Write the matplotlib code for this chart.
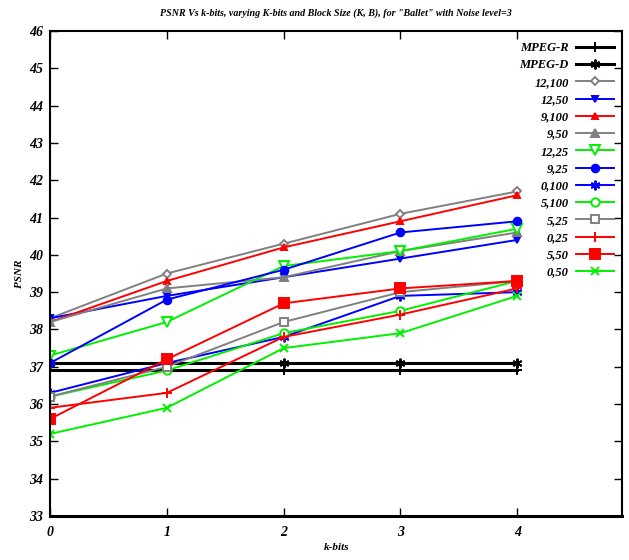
import numpy as np
import matplotlib
matplotlib.use("Agg")
import matplotlib.pyplot as plt

plt.rcParams['font.family'] = ['Liberation Serif', 'DejaVu Serif']
plt.rcParams['font.weight'] = 'bold'
plt.rcParams['font.style'] = 'italic'

k_bits = [0, 1, 2, 3, 4]

mpeg_r = [36.9, 36.9, 36.9, 36.9, 36.9]
mpeg_d = [37.1, 37.1, 37.1, 37.1, 37.1]
kb_12_100 = [38.3, 39.5, 40.3, 41.1, 41.7]
kb_12_50 = [38.3, 38.9, 39.4, 39.9, 40.4]
kb_9_100 = [38.2, 39.3, 40.2, 40.9, 41.6]
kb_9_50 = [38.2, 39.1, 39.4, 40.1, 40.6]
kb_12_25 = [37.3, 38.2, 39.7, 40.1, 40.7]
kb_9_25 = [37.1, 38.8, 39.6, 40.6, 40.9]
kb_0_100 = [36.3, 37.1, 37.8, 38.9, 39.0]
kb_5_100 = [36.2, 36.9, 37.9, 38.5, 39.3]
kb_5_25 = [36.2, 37.0, 38.2, 39.0, 39.3]
kb_0_25 = [35.9, 36.3, 37.8, 38.4, 39.1]
kb_5_50 = [35.6, 37.2, 38.7, 39.1, 39.3]
kb_0_50 = [35.2, 35.9, 37.5, 37.9, 38.9]

gray = '#808080'
blue = '#0000ff'
red = '#ff0000'
green = '#00f000'
star = (6, 2, 0)

# (label, values, colour, marker, filled, marker size)
series = [
    ("MPEG-R", mpeg_r, 'black', '+', True, 7),
    ("MPEG-D", mpeg_d, 'black', star, True, 7),
    ("12,100", kb_12_100, gray, 'D', False, 4.5),
    ("12,50", kb_12_50, blue, 'v', True, 4.5),
    ("9,100", kb_9_100, red, '^', True, 4.5),
    ("9,50", kb_9_50, gray, '^', True, 6),
    ("12,25", kb_12_25, green, 'v', False, 6.5),
    ("9,25", kb_9_25, blue, 'o', True, 5.5),
    ("0,100", kb_0_100, blue, star, True, 7),
    ("5,100", kb_5_100, green, 'o', False, 6),
    ("5,25", kb_5_25, gray, 's', False, 6),
    ("0,25", kb_0_25, red, '+', True, 7),
    ("5,50", kb_5_50, red, 's', True, 6.5),
    ("0,50", kb_0_50, green, 'x', True, 6),
]

fig = plt.figure(figsize=(6.29, 5.6), dpi=100)
ax = fig.add_axes([0.0795, 0.0786, 0.91, 0.866])

for label, vals, col, mk, filled, ms in series:
    lw = 2.2 if col == 'black' else 1.4
    ax.plot(k_bits, vals, color=col, lw=lw, marker=mk, ms=ms,
            mfc=col if filled else 'white', mec=col, mew=1.4, label=label)

ax.set_xlim(0, 4.9)
ax.set_ylim(33, 46)
ax.set_xticks(k_bits)
ax.set_yticks(np.arange(33, 47, 1))
ax.tick_params(direction='in', length=6, width=1, top=True, right=True,
               labelsize=10, pad=7)
ax.tick_params(axis='y', pad=5)
for side in ['left', 'bottom', 'top', 'right']:
    ax.spines[side].set_linewidth(1.5)
ax.spines['bottom'].set_linewidth(2.2)

ax.set_title('PSNR Vs k-bits, varying K-bits and Block Size (K, B), for "Ballet" with Noise level=3',
             fontsize=7.2, fontweight='bold', style='italic', pad=11)
ax.set_xlabel('k-bits', fontsize=8, fontweight='bold', style='italic', labelpad=3)
ax.set_ylabel('PSNR', fontsize=8, fontweight='bold', style='italic', labelpad=4)

leg = ax.legend(loc='upper right', bbox_to_anchor=(1.0, 0.995), frameon=False,
                markerfirst=False, fontsize=9, handlelength=3.0,
                labelspacing=0.42, handletextpad=0.6, borderaxespad=0.3)
for t in leg.get_texts():
    t.set_fontweight('bold')
    t.set_fontstyle('italic')

fig.savefig('out.png', dpi=100)
